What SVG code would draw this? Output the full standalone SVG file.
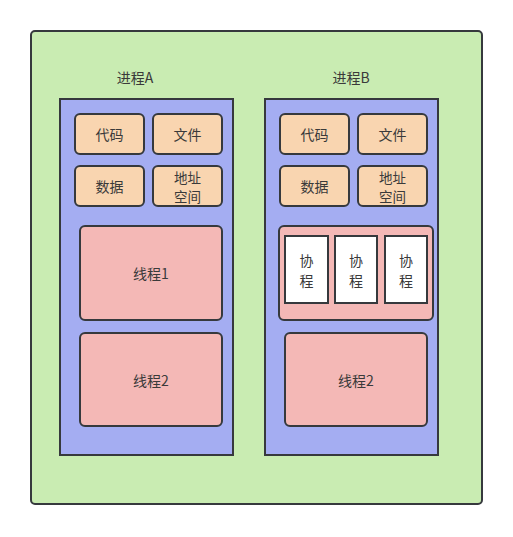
<svg xmlns="http://www.w3.org/2000/svg" width="513" height="537" viewBox="0 0 513 537">
<style>
.b{stroke:#36393d;stroke-width:2}
.outer{fill:#c9ecb2}
.proc{fill:#a4adf2}
.res{fill:#f9d5b0}
.thr{fill:#f4b8b6}
.co{fill:#ffffff}
text{font-family:"Noto Sans CJK SC","Liberation Sans",sans-serif;font-size:14px;fill:#3a3a3a;text-anchor:middle;dominant-baseline:central}
.s{font-size:13.5px}
</style>
<rect width="513" height="537" fill="#ffffff"/>
<g id="outer"><rect class="b outer" x="31" y="31" width="451" height="473" rx="4"/></g>
<g id="labelA"><text x="135" y="77">进程A</text></g>
<g id="labelB"><text x="351" y="77">进程B</text></g>
<g id="procA"><rect class="b proc" x="60" y="99" width="173" height="356"/></g>
<g id="procB"><rect class="b proc" x="265" y="99" width="173" height="356"/></g>
<g id="A_code"><rect class="b res" x="75" y="114" width="69" height="40" rx="5"/><text x="109.5" y="134">代码</text></g>
<g id="A_file"><rect class="b res" x="153" y="114" width="69" height="40" rx="5"/><text x="187.5" y="134">文件</text></g>
<g id="A_data"><rect class="b res" x="75" y="166" width="69" height="40" rx="5"/><text x="109.5" y="186">数据</text></g>
<g id="A_addr"><rect class="b res" x="153" y="166" width="69" height="40" rx="5"/><text class="s" x="187.5" y="176.5">地址</text><text class="s" x="187.5" y="195.5">空间</text></g>
<g id="A_t1"><rect class="b thr" x="80" y="226" width="142" height="94" rx="5"/><text x="151" y="273">线程1</text></g>
<g id="A_t2"><rect class="b thr" x="80" y="333" width="142" height="93" rx="5"/><text x="151" y="380">线程2</text></g>
<g id="B_code"><rect class="b res" x="280" y="114" width="69" height="40" rx="5"/><text x="314.5" y="134">代码</text></g>
<g id="B_file"><rect class="b res" x="358" y="114" width="69" height="40" rx="5"/><text x="392.5" y="134">文件</text></g>
<g id="B_data"><rect class="b res" x="280" y="166" width="69" height="40" rx="5"/><text x="314.5" y="186">数据</text></g>
<g id="B_addr"><rect class="b res" x="358" y="166" width="69" height="40" rx="5"/><text class="s" x="392.5" y="176.5">地址</text><text class="s" x="392.5" y="195.5">空间</text></g>
<g id="B_t1"><rect class="b thr" x="279" y="226" width="154" height="94" rx="5"/></g>
<g id="B_co1"><rect class="b co" x="285" y="236" width="43" height="67"/><text x="306.5" y="260">协</text><text x="306.5" y="280">程</text></g>
<g id="B_co2"><rect class="b co" x="335" y="236" width="42" height="67"/><text x="356" y="260">协</text><text x="356" y="280">程</text></g>
<g id="B_co3"><rect class="b co" x="385" y="236" width="42" height="67"/><text x="406" y="260">协</text><text x="406" y="280">程</text></g>
<g id="B_t2"><rect class="b thr" x="285" y="333" width="142" height="93" rx="5"/><text x="356" y="380">线程2</text></g>
<g id="connectors"></g>
</svg>
